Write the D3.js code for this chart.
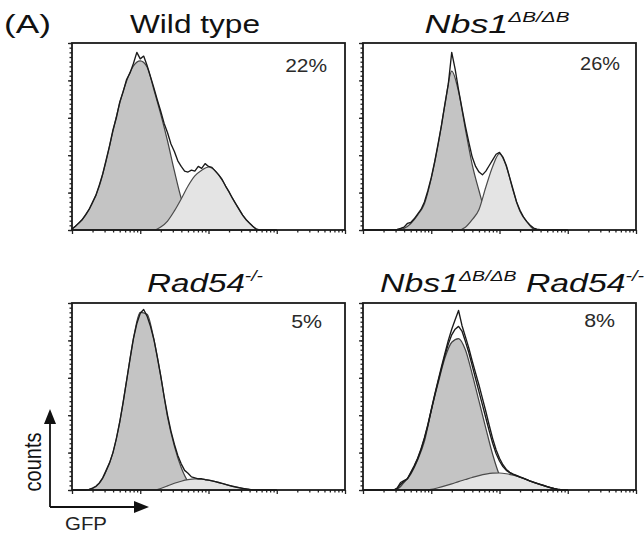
<!DOCTYPE html>
<html>
<head>
<meta charset="utf-8">
<script src="https://cdn.jsdelivr.net/npm/d3@7"></script>
<style>
    html, body { margin: 0; padding: 0; background: #fff; }
    svg { display: block; font-family: "Liberation Sans", Arial, sans-serif; }
</style>
</head>
<body>
<svg id="chart" width="644" height="533"></svg>
<script>
// GFP histograms (flow cytometry), log10 GFP on x, relative counts on y.
// Smooth fitted populations on a 0.1-decade grid, raw outlines on 0.05.

var gfpCoarse = [0, 0.1, 0.2, 0.3, 0.4, 0.5, 0.6, 0.7, 0.8, 0.9,
    1.0, 1.1, 1.2, 1.3, 1.4, 1.5, 1.6, 1.7, 1.8, 1.9,
    2.0, 2.1, 2.2, 2.3, 2.4, 2.5, 2.6, 2.7, 2.8, 2.9, 3.0];

var gfpFine = [0, 0.05, 0.1, 0.15, 0.2, 0.25, 0.3, 0.35, 0.4, 0.45,
    0.5, 0.55, 0.6, 0.65, 0.7, 0.75, 0.8, 0.85, 0.9, 0.95,
    1.0, 1.05, 1.1, 1.15, 1.2, 1.25, 1.3, 1.35, 1.4, 1.45,
    1.5, 1.55, 1.6, 1.65, 1.7, 1.75, 1.8, 1.85, 1.9, 1.95,
    2.0, 2.05, 2.1, 2.15, 2.2, 2.25, 2.3, 2.35, 2.4, 2.45,
    2.5, 2.55, 2.6, 2.65, 2.7, 2.75, 2.8, 2.85, 2.9, 2.95, 3.0];

// Wild type
var wtNegative = [0.5, 3.7, 8, 14.4, 23.5, 36.9, 52.9, 67.9, 79.7, 87.7,
    90.4, 87.2, 75, 62, 47.6, 31.6, 17, 7.5, 2, 0.5,
    0, 0, 0, 0, 0, 0, 0, 0, 0, 0, 0];
var wtPositive = [0, 0, 0, 0, 0, 0, 0, 0, 0, 0,
    0, 0, 0, 1.6, 4.8, 10.2, 16.6, 23.5, 28.9, 32,
    33.7, 31.6, 26.7, 20.3, 13.9, 8, 3.7, 0.5, 0, 0, 0];
var wtRaw = [0.5, 2, 3.8, 5.5, 8.2, 11, 14.8, 18.5, 24, 30,
    37.5, 45, 53.5, 60, 68.5, 74, 80.5, 84, 89, 95,
    91.5, 93, 88, 82, 76, 69.5, 63.5, 57, 52, 46,
    42, 37, 34, 31.5, 31, 32, 31.5, 34, 33, 35.5,
    34, 33.5, 31.5, 29.5, 27, 23.5, 20.5, 17, 14, 11,
    8, 5.5, 3.7, 2, 0.5, 0, 0, 0, 0, 0, 0];

// Nbs1 dB/dB
var nbsNegative = [0, 0, 0, 0, 0, 0, 0.8, 3.5, 8, 14,
    27.6, 45.5, 66.9, 85, 74, 54, 35, 21, 8.5, 2.5,
    0, 0, 0, 0, 0, 0, 0, 0, 0, 0, 0];
var nbsPositive = [0, 0, 0, 0, 0, 0, 0, 0, 0, 0,
    0, 0, 0, 0, 0, 1.5, 5.5, 11, 23, 34,
    40.8, 34, 21, 10, 4.5, 0.5, 0, 0, 0, 0, 0];
var nbsRaw = [0, 0, 0, 0, 0, 0, 0, 0, 0, 0,
    0.3, 0.8, 1.5, 3.5, 4, 6, 8.5, 11, 15, 21,
    28, 36.5, 46, 56, 67.5, 78, 95, 86, 75, 65,
    55.5, 47, 39, 34, 31, 29.5, 31.5, 34.5, 37.5, 40.5,
    41.5, 39, 34.5, 28, 21.5, 15, 10.5, 7, 4.5, 2.5,
    1, 0.5, 0.2, 0, 0, 0, 0, 0, 0, 0, 0];

// Rad54 -/-
var radNegative = [0, 0, 0, 0.8, 3.5, 10, 20, 36.5, 58.5, 81,
    95, 94, 80.5, 61, 39, 23.5, 12, 4.5, 1.5, 0.3,
    0, 0, 0, 0, 0, 0, 0, 0, 0, 0, 0];
var radPositive = [0, 0, 0, 0, 0, 0, 0, 0, 0, 0,
    0, 0, 0, 0.8, 2.2, 3.6, 4.7, 5.5, 5.9, 5.8,
    5.3, 4.5, 3.5, 2.5, 1.6, 0.9, 0.3, 0, 0, 0, 0];
var radRaw = [0, 0, 0, 0, 0, 0.3, 1, 2, 3.8, 6.5,
    10.5, 14.5, 20, 27.5, 36.5, 47, 58.5, 70, 81, 89,
    94.5, 96.5, 93, 87.5, 80.5, 71, 61, 50, 40, 31.5,
    24.5, 18.5, 14, 10.5, 9, 7, 6.5, 6, 6, 5.5,
    5.3, 4.9, 4.5, 4, 3.5, 3, 2.5, 2, 1.6, 1.2,
    0.9, 0.6, 0.3, 0.1, 0, 0, 0, 0, 0, 0, 0];

// Nbs1 dB/dB Rad54 -/-
var dblNegative = [0, 0, 0, 0, 0, 0.5, 4, 8.5, 16, 26,
    42.5, 57, 70.5, 79, 81, 75, 62, 47.5, 33, 19,
    8, 3, 0.5, 0, 0, 0, 0, 0, 0, 0, 0];
var dblPositive = [0, 0, 0, 0, 0, 0, 0, 0, 0, 0,
    0.3, 1.2, 2.2, 3.3, 4.5, 5.6, 6.7, 7.7, 8.5, 9,
    9.1, 8.7, 7.9, 6.8, 5.5, 4.1, 2.9, 1.8, 0.8, 0.2, 0];
var dblRaw = [0, 0, 0, 0, 0, 0, 0, 0, 0, 0,
    1, 4, 5, 6, 9.5, 13, 17, 22, 28, 35,
    43, 51, 58.5, 66, 73, 80, 86, 91, 96, 88,
    82, 76, 69, 62.5, 56, 49, 42, 34.5, 27.5, 21.5,
    17, 13.5, 11, 9.5, 8.5, 7.8, 7, 6.3, 5.6, 4.8,
    4.2, 3.6, 3, 2.4, 1.8, 1.3, 0.8, 0.4, 0.2, 0, 0];
var dblRaw2 = [0, 0, 0, 0, 0, 0, 0, 0, 0, 0,
    0.8, 3, 4.5, 6, 9, 12.5, 16.5, 21.5, 27.5, 34.5,
    42.5, 50.5, 58, 65, 72, 78, 83, 86, 87.5, 85,
    79.5, 73.5, 66.5, 59.5, 52.5, 45.5, 38.5, 31.5, 25, 19.5,
    15.5, 12.5, 10.5, 9.2, 8.3, 7.6, 6.9, 6.2, 5.5, 4.7,
    4.1, 3.5, 2.9, 2.3, 1.7, 1.2, 0.7, 0.3, 0.1, 0, 0];

var percentLabels = ['22%', '26%', '5%', '8%'];
var xDecades = [0, 1, 2, 3, 4];
var yMajorTicks = [0, 20, 40, 60, 80, 100];

var panels = [
    { negative: wtNegative, positive: wtPositive, raws: [wtRaw], pct: percentLabels[0] },
    { negative: nbsNegative, positive: nbsPositive, raws: [nbsRaw], pct: percentLabels[1] },
    { negative: radNegative, positive: radPositive, raws: [radRaw], pct: percentLabels[2] },
    { negative: dblNegative, positive: dblPositive, raws: [dblRaw, dblRaw2], pct: percentLabels[3] }
];

// ---------------------------------------------------------------------------
// layout
// ---------------------------------------------------------------------------
var colX = [72, 363];
var rowY = [43, 303];
var pw = 273, ph = 187;
// percent label: right edge / width / baseline, relative to panel
var pctPos = [[255, 42, 29], [257, 40, 27], [250, 31, 25], [252, 31, 24]];

var svg = d3.select('#chart');

// the source figure is stretched sideways; squeeze text to the widths seen
function fitWidth(sel, anchorX, width) {
    var w = sel.node().getBBox().width;
    var s = width / w;
    sel.attr('transform', 'translate(' + anchorX + ',0) scale(' + s + ',1) translate(' + (-anchorX) + ',0)');
}

var x = d3.scaleLinear().domain([0, 4]).range([0, pw]);
var y = d3.scaleLinear().domain([0, 100]).range([ph, 0]);

// minor ticks: log 2..9 in every decade, counts every 2.5
var xMinor = [];
xDecades.slice(0, -1).forEach(function(d) {
    for (var k = 2; k < 10; k++) xMinor.push(d + Math.log10(k));
});
var yMinor = d3.range(0, 100.01, 2.5);

var area = d3.area()
    .x(function(d) { return x(d[0]); })
    .y0(ph)
    .y1(function(d) { return y(d[1]); })
    .curve(d3.curveMonotoneX);

var line = d3.line()
    .x(function(d) { return x(d[0]); })
    .y(function(d) { return y(d[1]); })
    .curve(d3.curveLinear);

panels.forEach(function(p, i) {
    var g = svg.append('g')
        .attr('transform', 'translate(' + colX[i % 2] + ',' + rowY[Math.floor(i / 2)] + ')');

    var neg = d3.zip(gfpCoarse, p.negative);
    var pos = d3.zip(gfpCoarse, p.positive);

    g.append('path').datum(neg)
        .attr('d', area)
        .attr('fill', '#c4c4c4')
        .attr('stroke', '#444')
        .attr('stroke-width', 1.2);

    g.append('path').datum(pos)
        .attr('d', area)
        .attr('fill', '#e4e4e4')
        .attr('stroke', '#4c4c4c')
        .attr('stroke-width', 1.2);

    p.raws.forEach(function(r) {
        g.append('path').datum(d3.zip(gfpFine, r))
            .attr('d', line)
            .attr('fill', 'none')
            .attr('stroke', '#1a1a1a')
            .attr('stroke-width', 1.35)
            .attr('stroke-linejoin', 'round');
    });

    // axes
    var xAxis = d3.axisBottom(x).tickValues(xDecades).tickSize(4).tickFormat('');
    var xAxisMinor = d3.axisBottom(x).tickValues(xMinor).tickSize(2.5).tickFormat('');
    var yAxis = d3.axisLeft(y).tickValues(yMajorTicks).tickSize(4).tickFormat('');
    var yAxisMinor = d3.axisLeft(y).tickValues(yMinor).tickSize(2.5).tickFormat('');

    [xAxis, xAxisMinor].forEach(function(ax) {
        g.append('g').attr('transform', 'translate(0,' + ph + ')').call(ax);
    });
    [yAxis, yAxisMinor].forEach(function(ax) {
        g.append('g').call(ax);
    });
    g.selectAll('.domain').remove();
    g.selectAll('.tick line').attr('stroke', '#222').attr('stroke-width', 1.3);

    g.append('rect')
        .attr('width', pw).attr('height', ph)
        .attr('fill', 'none')
        .attr('stroke', '#1a1a1a')
        .attr('stroke-width', 1.8);

    var pp = pctPos[i];
    var t = g.append('text')
        .attr('x', pp[0]).attr('y', pp[2])
        .attr('text-anchor', 'end')
        .attr('font-size', 19)
        .attr('fill', '#2a2a2a')
        .text(p.pct);
    fitWidth(t, pp[0], pp[1]);
});

// ---------------------------------------------------------------------------
// titles
// ---------------------------------------------------------------------------
var tA = svg.append('text').attr('x', 4).attr('y', 33)
    .attr('font-size', 26).attr('fill', '#111').text('(A)');
fitWidth(tA, 4, 47);

var tW = svg.append('text').attr('x', 195).attr('y', 33)
    .attr('text-anchor', 'middle').attr('font-size', 26).attr('fill', '#111')
    .text('Wild type');
fitWidth(tW, 195, 130);

function mutTitle(cx, baseline, width, parts) {
    var t = svg.append('text').attr('x', cx).attr('y', baseline)
        .attr('text-anchor', 'middle').attr('font-size', 26)
        .attr('font-style', 'italic').attr('fill', '#111');
    parts.forEach(function(pt) {
        var s = t.append('tspan').text(pt[0]);
        if (pt[1]) s.attr('font-size', 15).attr('dy', -11);
        else if (pt[2]) s.attr('dy', 11);
    });
    fitWidth(t, cx, width);
}
mutTitle(497, 33, 145, [['Nbs1'], ['\u0394B/\u0394B', true]]);
mutTitle(205, 292, 116, [['Rad54'], ['-/-', true]]);
mutTitle(512, 292, 264, [['Nbs1'], ['\u0394B/\u0394B', true], [' Rad54', false, true], ['-/-', true]]);

// ---------------------------------------------------------------------------
// axis key arrows
// ---------------------------------------------------------------------------
var key = svg.append('g').attr('stroke', '#111').attr('fill', '#111');
key.append('path').attr('d', 'M50,507 V420').attr('stroke-width', 1.8).attr('fill', 'none');
key.append('path').attr('d', 'M50,507 H138').attr('stroke-width', 1.8).attr('fill', 'none');
key.append('path').attr('d', 'M50,409 L44,424 L56,424 Z').attr('stroke', 'none');
key.append('path').attr('d', 'M149,507 L134,501 L134,513 Z').attr('stroke', 'none');

svg.append('text')
    .attr('transform', 'translate(41,462) rotate(-90) scale(1,1.15)')
    .attr('text-anchor', 'middle').attr('font-size', 20).attr('fill', '#111')
    .text('counts');
var tG = svg.append('text').attr('x', 86).attr('y', 530)
    .attr('text-anchor', 'middle').attr('font-size', 18).attr('fill', '#222')
    .text('GFP');
fitWidth(tG, 86, 42);
</script>
</body>
</html>
